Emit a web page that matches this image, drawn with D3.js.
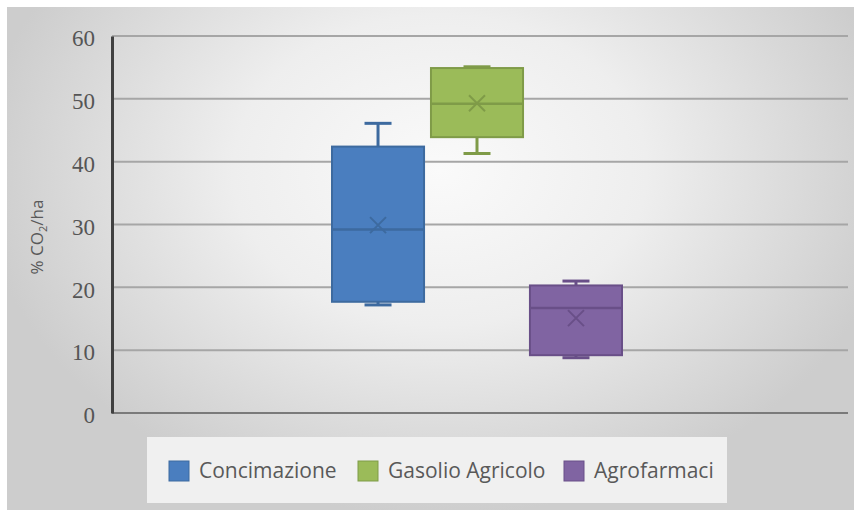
<!DOCTYPE html>
<html>
<head>
<meta charset="utf-8">
<script src="https://cdn.jsdelivr.net/npm/d3@7"></script>
<style>
  html, body { margin: 0; padding: 0; background: #ffffff; }
  svg { display: block; }
</style>
</head>
<body>
<svg id="chart" width="854" height="513"></svg>
<script>
// Box-plot data: one box per series
const series   = ["Concimazione", "Gasolio Agricolo", "Agrofarmaci"];
const minVals  = [17.2, 41.3, 8.8];
const q1Vals   = [17.7, 43.9, 9.2];
const medVals  = [29.2, 49.2, 16.7];
const q3Vals   = [42.4, 54.9, 20.3];
const maxVals  = [46.1, 55.1, 21.0];
const meanVals = [29.9, 49.3, 15.1];
const yTicks   = [0, 10, 20, 30, 40, 50, 60];

const fills   = ["#4a7ebf", "#9bbb59", "#8064a2"];
const strokes = ["#3d6a9f", "#7f9b48", "#694f88"];

const rows = series.map((s, i) => ({
  name: s, min: minVals[i], q1: q1Vals[i], med: medVals[i],
  q3: q3Vals[i], max: maxVals[i], mean: meanVals[i],
  fill: fills[i], stroke: strokes[i]
}));

const svg = d3.select("#chart");
const W = 854, H = 513;
const plot = { left: 112, right: 848, top: 36, bottom: 413 };

// Background frame with soft radial shading
const defs = svg.append("defs");
const grad = defs.append("radialGradient")
  .attr("id", "bg")
  .attr("gradientUnits", "userSpaceOnUse")
  .attr("cx", 440).attr("cy", 170).attr("r", 460)
  .attr("gradientTransform", "translate(440,170) scale(1,0.75) translate(-440,-170)");
grad.append("stop").attr("offset", "0%").attr("stop-color", "#fafafa");
grad.append("stop").attr("offset", "45%").attr("stop-color", "#eeeeee");
grad.append("stop").attr("offset", "100%").attr("stop-color", "#cdcdcd");

svg.append("rect")
  .attr("x", 7).attr("y", 7).attr("width", W - 7).attr("height", 503)
  .attr("fill", "url(#bg)");

// Scales
const y = d3.scaleLinear().domain([0, 60]).range([plot.bottom, plot.top]);
const x = d3.scaleBand().domain(series).range([332, 622]).paddingInner(0.07).paddingOuter(0);

// Gridlines
svg.append("g")
  .selectAll("line")
  .data(yTicks.filter(t => t > 0))
  .join("line")
  .attr("x1", plot.left).attr("x2", plot.right)
  .attr("y1", d => y(d)).attr("y2", d => y(d))
  .attr("stroke", "#a6a6a6").attr("stroke-width", 2);

// Baseline
svg.append("line")
  .attr("x1", plot.left).attr("x2", plot.right)
  .attr("y1", y(0)).attr("y2", y(0))
  .attr("stroke", "#7a7a7a").attr("stroke-width", 2);

// Y axis
const yAxis = d3.axisLeft(y).tickValues(yTicks).tickSize(0).tickPadding(17);
const gy = svg.append("g").attr("transform", `translate(${plot.left},0)`).call(yAxis);
gy.select(".domain").attr("stroke", "#404040").attr("stroke-width", 3);
gy.selectAll("text")
  .attr("font-family", "'Liberation Serif', 'DejaVu Serif', serif")
  .attr("font-size", 23)
  .attr("fill", "#555555")
  .attr("dy", "0.42em");

// Axis title
const title = svg.append("text")
  .attr("transform", "translate(43,237) rotate(-90)")
  .attr("text-anchor", "middle")
  .attr("font-family", "'Open Sans', sans-serif")
  .attr("font-size", 17)
  .attr("fill", "#595959");
title.append("tspan").text("% CO");
title.append("tspan").attr("font-size", 11).attr("dy", 4).text("2");
title.append("tspan").attr("dy", -4).text("/ha");

// Boxes
const boxes = svg.append("g").selectAll("g").data(rows).join("g");
const capW = 27;

boxes.each(function(d) {
  const g = d3.select(this);
  const x0 = x(d.name), bw = x.bandwidth(), cx = x0 + bw / 2;
  // whiskers
  g.append("line").attr("x1", cx).attr("x2", cx)
    .attr("y1", y(d.max)).attr("y2", y(d.q3))
    .attr("stroke", d.stroke).attr("stroke-width", 3);
  g.append("line").attr("x1", cx).attr("x2", cx)
    .attr("y1", y(d.q1)).attr("y2", y(d.min))
    .attr("stroke", d.stroke).attr("stroke-width", 3);
  g.append("line").attr("x1", cx - capW / 2).attr("x2", cx + capW / 2)
    .attr("y1", y(d.max)).attr("y2", y(d.max))
    .attr("stroke", d.stroke).attr("stroke-width", 3);
  g.append("line").attr("x1", cx - capW / 2).attr("x2", cx + capW / 2)
    .attr("y1", y(d.min)).attr("y2", y(d.min))
    .attr("stroke", d.stroke).attr("stroke-width", 3);
  // box
  g.append("rect")
    .attr("x", x0).attr("width", bw)
    .attr("y", y(d.q3)).attr("height", y(d.q1) - y(d.q3))
    .attr("fill", d.fill).attr("stroke", d.stroke).attr("stroke-width", 2);
  // median
  g.append("line").attr("x1", x0).attr("x2", x0 + bw)
    .attr("y1", y(d.med)).attr("y2", y(d.med))
    .attr("stroke", d.stroke).attr("stroke-width", 2.5);
  // mean marker
  const m = 8, my = y(d.mean);
  g.append("path")
    .attr("d", `M${cx - m},${my - m}L${cx + m},${my + m}M${cx - m},${my + m}L${cx + m},${my - m}`)
    .attr("stroke", d.stroke).attr("stroke-width", 2).attr("fill", "none");
});

// Legend
const legend = svg.append("g");
legend.append("rect")
  .attr("x", 147).attr("y", 437).attr("width", 580).attr("height", 66)
  .attr("fill", "#f0f0f0");

const itemX = [169, 358, 564];
const items = legend.selectAll("g.item").data(rows).join("g")
  .attr("class", "item")
  .attr("transform", (d, i) => `translate(${itemX[i]},461)`);
items.append("rect")
  .attr("width", 20).attr("height", 20)
  .attr("fill", d => d.fill).attr("stroke", d => d.stroke).attr("stroke-width", 1);
items.append("text")
  .attr("x", 30).attr("y", 10).attr("dy", "0.35em")
  .attr("font-family", "'Open Sans', sans-serif")
  .attr("font-size", 21)
  .attr("fill", "#595959")
  .text(d => d.name);
</script>
</body>
</html>
